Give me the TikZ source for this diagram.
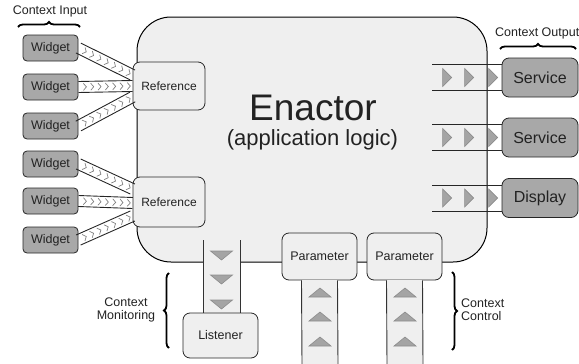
\documentclass[tikz,border=0pt]{standalone}
\usepackage{fontspec}
\setmainfont{Liberation Sans}
\usetikzlibrary{calc,decorations.pathreplacing,decorations.markings}
\definecolor{lightfill}{HTML}{EFEFEF}
\definecolor{darkfill}{HTML}{A8A8A8}
\definecolor{trifill}{HTML}{A4A4A4}
\definecolor{txt}{HTML}{222222}
\begin{document}
\begin{tikzpicture}[x=1pt,y=-1pt,
  every node/.style={text=txt},
  enactorbox/.style={draw=black, fill=lightfill, rounded corners=34pt, line width=1pt, minimum width=350pt, minimum height=245pt, inner sep=0pt},
  widgetbox/.style={draw=black!85, fill=darkfill, rounded corners=4pt, minimum width=55pt, minimum height=26pt, inner sep=0pt, font=\fontsize{12.5}{13}\selectfont, line width=0.8pt},
  refbox/.style={draw=black!85, fill=lightfill, rounded corners=7pt, minimum width=72pt, minimum height=48pt, inner sep=0pt, font=\fontsize{12}{13}\selectfont, line width=0.8pt},
  servbox/.style={draw=black!85, fill=darkfill, rounded corners=7pt, minimum width=76pt, minimum height=39pt, inner sep=0pt, font=\fontsize{16}{16}\selectfont, line width=0.8pt},
  parbox/.style={draw=black!85, fill=lightfill, rounded corners=7pt, minimum width=75pt, minimum height=47pt, inner sep=0pt, font=\fontsize{12.5}{13}\selectfont, line width=0.8pt},
  lbl/.style={font=\fontsize{12.5}{13}\selectfont, inner sep=0pt},
  chanline/.style={draw=black!80, line width=0.9pt},
  bandline/.style={draw=black!85, line width=0.9pt},
  chev/.style={decoration={markings, mark=between positions 0.12 and 0.95 step 0.135 with {\draw[black!50, line width=0.7pt] (-1.5pt,3.5pt)--(1.5pt,0pt)--(-1.5pt,-3.5pt);}}, postaction=decorate},
  bracestyle/.style={draw=black, line width=1.8pt, decorate, decoration={brace, amplitude=5pt}},
  tridown/.pic={\filldraw[fill=trifill, draw=black!45, line width=0.6pt] (-11,-4)--(11,-4)--(0,5)--cycle;},
  triup/.pic={\filldraw[fill=trifill, draw=black!45, line width=0.6pt] (-11,5)--(11,5)--(0,-4)--cycle;},
  triright/.pic={\filldraw[fill=trifill, draw=black!45, line width=0.6pt] (-4,-9)--(-4,9)--(5,0)--cycle;}
]
\useasboundingbox (0,0) rectangle (579,364);

% Enactor
\node[enactorbox] (enactor) at (312,139.5) {};
\node[font=\fontsize{37}{37}\selectfont, inner sep=0pt] (title) at (313,108) {Enactor};
\node[font=\fontsize{22}{22}\selectfont, inner sep=0pt] (subtitle) at (312.5,140) {(application logic)};

% Listener channel
\coordinate (lchanTL) at (203,240);
\coordinate (lchanBR) at (240,313);
\fill[lightfill] (lchanTL) rectangle (lchanBR);
\draw[chanline] (lchanTL) -- (lchanTL |- lchanBR);
\draw[chanline] (lchanBR |- lchanTL) -- (lchanBR);
\foreach \y in {255,279,304} \pic at (221.5,\y) {tridown};
\node[parbox, minimum height=45pt] (listener) at (220.5,335.5) {Listener};

% Parameter channels
\node[parbox] (param1) at (319.5,256.5) {Parameter};
\node[parbox] (param2) at (404.5,256.5) {Parameter};
\coordinate (p1end) at (320,364);
\coordinate (p2end) at (405,364);
\fill[lightfill] ($(param1.south)+(-18,0)$) rectangle ($(p1end)+(18,0)$);
\fill[lightfill] ($(param2.south)+(-18,0)$) rectangle ($(p2end)+(18,0)$);
\draw[chanline] ($(param1.south)+(-18,0)$) -- ($(p1end)+(-18,0)$);
\draw[chanline] ($(param1.south)+(18,0)$) -- ($(p1end)+(18,0)$);
\draw[chanline] ($(param2.south)+(-18,0)$) -- ($(p2end)+(-18,0)$);
\draw[chanline] ($(param2.south)+(18,0)$) -- ($(p2end)+(18,0)$);
\foreach \y in {292,316,341} {\pic at (320,\y) {triup}; \pic at (405,\y) {triup};}

% References
\node[refbox] (ref1) at (169,86) {Reference};
\node[refbox, minimum height=50pt] (ref2) at (169,202) {Reference};

% Widgets
\node[widgetbox] (w1) at (50.5,48) {Widget};
\node[widgetbox] (w2) at (50.5,87) {Widget};
\node[widgetbox] (w3) at (50.5,126) {Widget};
\node[widgetbox] (w4) at (50.5,164) {Widget};
\node[widgetbox] (w5) at (50.5,201) {Widget};
\node[widgetbox] (w6) at (50.5,240) {Widget};

\coordinate (r1a) at ($(ref1.west)+(0,-11)$);
\coordinate (r1b) at ($(ref1.west)+(0,0)$);
\coordinate (r1c) at ($(ref1.west)+(0,11)$);
\coordinate (r2a) at ($(ref2.west)+(0,-13)$);
\coordinate (r2b) at ($(ref2.west)+(0,1)$);
\coordinate (r2c) at ($(ref2.west)+(0,14)$);

\foreach \w/\r in {w1/r1a, w2/r1b, w3/r1c, w4/r2a, w5/r2b, w6/r2c} {
  \draw[bandline] ($(\w.east)!5.5pt!90:(\r)$) -- ($(\r)!5.5pt!-90:(\w.east)$);
  \draw[bandline] ($(\w.east)!5.5pt!-90:(\r)$) -- ($(\r)!5.5pt!90:(\w.east)$);
  \path[chev] (\w.east) -- (\r);
}

% Services
\node[servbox] (s1) at (540,77.5) {Service};
\node[servbox] (s2) at (540,137.5) {Service};
\node[servbox] (s3) at (540,198) {Display};

\foreach \s in {s1,s2,s3} {
  \draw[bandline] ($(\s.west)+(0,-13)$) -- ++(-70,0);
  \draw[bandline] ($(\s.west)+(0,13)$) -- ++(-70,0);
  \foreach \dx in {-55,-33,-9} \pic at ($(\s.west)+(\dx,0)$) {triright};
}

% Labels and braces
\node[lbl] (cin) at (50,11) {Context Input};
\draw[bracestyle] (18,27) -- (80,27);
\node[lbl, anchor=west] (cout) at (495,33) {Context Output};
\draw[bracestyle] (500,49) -- (576,49);
\node[lbl, align=center] (cmon) at (126,310) {Context\\Monitoring};
\draw[bracestyle] (169,348) -- (169,273);
\node[lbl, align=left, anchor=west] (cctl) at (461,310) {Context\\Control};
\draw[bracestyle] (452,272) -- (452,350);
\end{tikzpicture}
\end{document}
